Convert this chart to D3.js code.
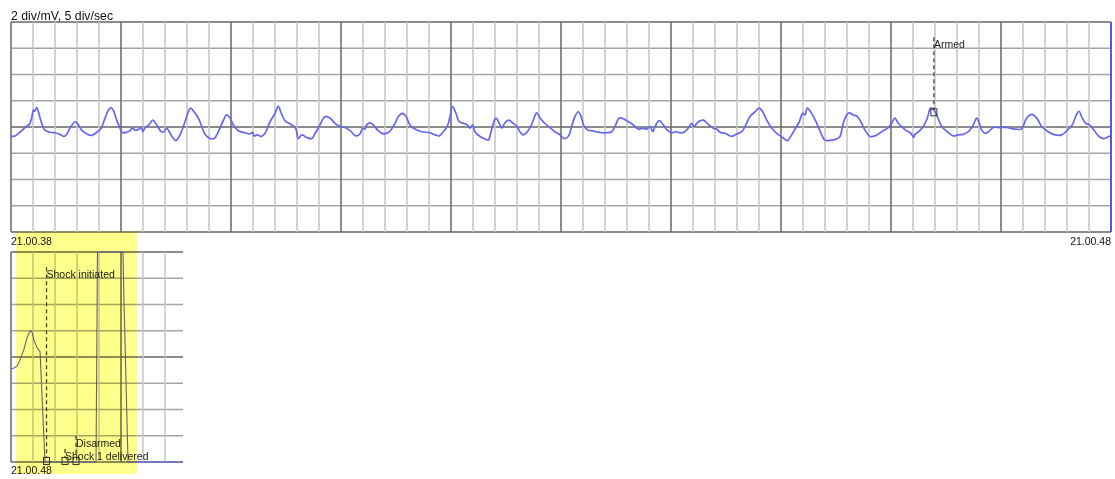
<!DOCTYPE html>
<html>
<head>
<meta charset="utf-8">
<script src="https://cdn.jsdelivr.net/npm/d3@7"></script>
<style>
    body { margin: 0; background: #fff; }
    text { font-family: "Liberation Sans", Arial, Helvetica, sans-serif; fill: #111; }
</style>
</head>
<body>
<div id="chart"></div>
<script>
"use strict"
// Labels
var scaleLabel = "2 div/mV, 5 div/sec"
var stripStartLabel = "21.00.38"
var stripEndLabel = "21.00.48"
var shockStartLabel = "21.00.48"

// Main ECG strip: seconds after 21.00.38, amplitude in mV
var stripSeconds = [0, 0.036, 0.082, 0.127, 0.166, 0.188, 0.203, 0.215, 0.234, 0.257, 0.279, 0.309, 0.355, 0.4, 0.445,
    0.482, 0.506, 0.536, 0.582, 0.603, 0.643, 0.688, 0.734, 0.779, 0.815, 0.855, 0.885, 0.909, 0.93, 0.961,
    0.991, 1.015, 1.052, 1.082, 1.106, 1.127, 1.157, 1.188, 1.197, 1.218, 1.257, 1.288, 1.325, 1.361, 1.385,
    1.415, 1.439, 1.47, 1.5, 1.536, 1.582, 1.612, 1.634, 1.664, 1.703, 1.734, 1.764, 1.809, 1.845, 1.885,
    1.925, 1.961, 1.991, 2.021, 2.066,
    2.127, 2.173, 2.197, 2.209, 2.239, 2.279, 2.309, 2.355, 2.4, 2.43, 2.452, 2.491, 2.536, 2.573, 2.591,
    2.612, 2.643, 2.688, 2.734, 2.773, 2.809, 2.855, 2.9, 2.945, 2.991, 3.036, 3.082, 3.136, 3.173, 3.197,
    3.218, 3.234, 3.264, 3.294, 3.339, 3.385, 3.439, 3.491, 3.521, 3.561, 3.591, 3.627, 3.673, 3.734, 3.809,
    3.855, 3.894, 3.93, 3.966, 3.991, 4.015, 4.045, 4.075, 4.112, 4.148, 4.173, 4.197, 4.218,
    4.264, 4.309, 4.339, 4.361, 4.385, 4.409, 4.439, 4.461, 4.491, 4.521, 4.566, 4.597, 4.627, 4.657, 4.694,
    4.725, 4.755, 4.779, 4.809, 4.839, 4.885, 4.945, 4.991, 5.027, 5.066, 5.097, 5.127, 5.157, 5.182, 5.209,
    5.248, 5.279, 5.318, 5.37, 5.415, 5.461, 5.491, 5.53, 5.573, 5.612, 5.657, 5.703, 5.748, 5.779, 5.809,
    5.834, 5.855, 5.894, 5.93, 5.966, 6.006, 6.045, 6.082, 6.127, 6.157, 6.188, 6.209, 6.248, 6.294, 6.339,
    6.379, 6.415,
    6.445, 6.491, 6.552, 6.591, 6.643, 6.673, 6.718, 6.764, 6.803, 6.834, 6.87, 6.915, 6.961, 7.015, 7.057,
    7.088, 7.127, 7.166, 7.197, 7.218, 7.239, 7.279, 7.325, 7.37, 7.4, 7.461, 7.506, 7.536, 7.566, 7.597,
    7.621, 7.657, 7.688, 7.718, 7.764, 7.809, 7.855, 7.915, 7.975, 8.006, 8.036, 8.066, 8.112, 8.157, 8.182,
    8.205, 8.218, 8.257, 8.294, 8.33, 8.361, 8.391, 8.421, 8.461, 8.512, 8.566, 8.612, 8.657, 8.703, 8.748,
    8.779, 8.803, 8.825, 8.855, 8.885, 8.93, 8.991, 9.052, 9.127, 9.188, 9.203, 9.234, 9.279, 9.325, 9.37,
    9.43, 9.491, 9.552, 9.603, 9.648, 9.685, 9.709, 9.739, 9.77, 9.806, 9.845, 9.891, 9.936, 9.982, 10]
var stripMv = [-0.18, -0.17, -0.10, -0.01, 0.05, 0.17, 0.32, 0.30, 0.37, 0.23, 0.07, -0.06, -0.10, -0.11, -0.14,
    -0.18, -0.14, -0.02, 0.10, 0.07, -0.06, -0.13, -0.16, -0.10, -0.04, 0.17, 0.32, 0.37, 0.32, 0.13,
    -0.02, -0.11, -0.10, -0.07, -0.02, -0.06, -0.05, -0.01, -0.09, -0.02, 0.05, 0.13, 0.04, -0.08, -0.10,
    -0.02, -0.09, -0.20, -0.26, -0.15, 0.10, 0.29, 0.36, 0.29, 0.17, 0.01, -0.14, -0.22, -0.22, -0.09,
    0.10, 0.23, 0.17, 0.04, -0.07,
    -0.11, -0.13, -0.10, -0.17, -0.15, -0.18, -0.12, 0.10, 0.26, 0.40, 0.29, 0.12, 0.06, 0.01, -0.04,
    -0.22, -0.15, -0.20, -0.22, -0.09, 0.04, 0.20, 0.17, 0.07, 0.01, -0.01, -0.07, -0.17, -0.13, -0.02,
    -0.04, 0.04, 0.08, 0.04, -0.07, -0.13, -0.09, 0.07, 0.20, 0.26, 0.20, 0.04, -0.04, -0.09, -0.11,
    -0.15, -0.17, -0.09, 0.01, 0.20, 0.39, 0.26, 0.10, 0.07, 0.04, -0.02, 0.04, -0.09,
    -0.18, -0.23, -0.25, -0.12, 0.07, 0.17, 0.07, -0.02, 0.08, 0.13, 0.07, 0.02, -0.09, -0.15, -0.09,
    0.01, 0.17, 0.27, 0.17, 0.10, 0.01, -0.09, -0.15, -0.22, -0.18, 0.01, 0.20, 0.29, 0.20, 0.02,
    -0.06, -0.07, -0.09, -0.11, -0.11, -0.09, 0.01, 0.17, 0.15, 0.10, 0.04, -0.04, -0.02, -0.04, 0.01,
    -0.09, 0.01, 0.12, 0.04, -0.06, -0.11, -0.09, -0.11, -0.09, -0.02, 0.07, 0.01, 0.10, 0.13, 0.05,
    -0.02, -0.04,
    -0.10, -0.12, -0.18, -0.14, -0.09, 0.01, 0.20, 0.29, 0.36, 0.29, 0.13, -0.02, -0.12, -0.20, -0.26,
    -0.18, -0.04, 0.10, 0.26, 0.23, 0.36, 0.26, 0.07, -0.15, -0.25, -0.25, -0.23, -0.18, 0.07, 0.23,
    0.27, 0.23, 0.21, 0.13, -0.06, -0.18, -0.17, -0.09, -0.01, 0.07, 0.17, 0.07, -0.02, -0.09, -0.12,
    -0.20, -0.14, -0.08, 0.01, 0.17, 0.36, 0.32, 0.20, 0.01, -0.09, -0.17, -0.15, -0.14, -0.09, 0.04,
    0.17, 0.07, -0.06, -0.12, -0.09, -0.01, -0.01, -0.01, -0.04, -0.04, 0.02, 0.17, 0.24, 0.17, 0.01,
    -0.09, -0.15, -0.15, -0.06, 0.04, 0.23, 0.30, 0.17, 0.07, 0.04, -0.06, -0.18, -0.22, -0.18, -0.17]

// Shock strip: seconds after 21.00.48, clipped at +/-2 mV
var shockSeconds = [0, 0.027, 0.055, 0.082, 0.118, 0.145, 0.164, 0.182, 0.191, 0.209, 0.236, 0.264, 0.309,
    0.773, 0.786, 1.018, 1.027, 1.064, 1.564]
var shockMv = [-0.23, -0.21, -0.17, -0.06, 0.15, 0.36, 0.46, 0.50, 0.48, 0.32, 0.18, 0.10, -2.0,
    -2.0, 2.0, 2.0, 1.09, -2.0, -2.0]

// Event markers
var stripEventSeconds = [8.39]
var stripEventMv = [0.28]
var stripEventLabels = ["Armed"]
var stripEventLabelMv = [1.5]

var shockEventSeconds = [0.323, 0.491, 0.591]
var shockEventMv = [-1.98, -1.98, -1.98]
var shockEventLabels = ["Shock initiated", "Shock 1 delivered", "Disarmed"]
var shockEventLabelMv = [1.5, -1.96, -1.71]

// Highlighted window, seconds after 21.00.48
var highlightSeconds = [0.045, 1.145]

var width = 1115
var height = 479
var pxPerSec = 110 // 5 div/sec, 22 px per div
var left = 11

var svg = d3.select("#chart").append("svg")
    .attr("width", width)
    .attr("height", height)

// Top strip scales
var xTop = d3.scaleLinear().domain([0, 10]).range([left, left + 10 * pxPerSec])
var yTop = d3.scaleLinear().domain([-2, 2]).range([232, 22])

// Bottom (shock) strip scales
var shockLen = shockSeconds[shockSeconds.length - 1]
var xBot = d3.scaleLinear().domain([0, shockLen]).range([left, left + shockLen * pxPerSec])
var yBot = d3.scaleLinear().domain([-2, 2]).range([462, 252])

function drawGrid(g, x, y, lastLine) {
    var xs = d3.range(0, Math.round(lastLine / 0.2) + 1).map(function (i) { return i * 0.2 })
    var ys = d3.range(-2, 2.01, 0.5)
    var x0 = x.range()[0], x1 = x.range()[1]

    // horizontal lines first, verticals on top
    g.selectAll(".hline").data(ys).enter().append("line")
        .attr("class", "hline")
        .attr("x1", x0).attr("x2", x1)
        .attr("y1", function (d) { return y(d) }).attr("y2", function (d) { return y(d) })
        .attr("stroke", function (d) { return d === 0 || Math.abs(d) === 2 ? "#666" : "#a6a6a6" })
        .attr("stroke-width", 1.5)

    g.selectAll(".vline").data(xs).enter().append("line")
        .attr("class", "vline")
        .attr("x1", function (d) { return x(d) }).attr("x2", function (d) { return x(d) })
        .attr("y1", y.range()[1]).attr("y2", y.range()[0])
        .attr("stroke", function (d, i) { return i % 5 === 0 ? "#666" : "#c4c4c4" })
        .attr("stroke-width", 1.5)
}

function drawEvents(g, x, y, secs, mvs, labels, labelMv) {
    var ev = secs.map(function (d, i) { return { t: d, v: mvs[i], label: labels[i], lv: labelMv[i] } })

    g.selectAll(".evline").data(ev).enter().append("line")
        .attr("x1", function (d) { return x(d.t) }).attr("x2", function (d) { return x(d.t) })
        .attr("y1", function (d) { return y(d.lv) - 11 })
        .attr("y2", function (d) { return y(d.v) - 3 })
        .attr("stroke", "#444")
        .attr("stroke-width", 1.3)
        .attr("stroke-dasharray", "4,3")

    g.selectAll(".evbox").data(ev).enter().append("rect")
        .attr("x", function (d) { return x(d.t) - 3 })
        .attr("y", function (d) { return y(d.v) - 3.5 })
        .attr("width", 6).attr("height", 7)
        .attr("fill", "none")
        .attr("stroke", "#333")
        .attr("stroke-width", 1)

    g.selectAll(".evlabel").data(ev).enter().append("text")
        .attr("x", function (d) { return x(d.t) })
        .attr("y", function (d) { return y(d.lv) })
        .style("font-size", "10.5px")
        .style("fill", "#222")
        .text(function (d) { return d.label })
}

// Top strip
var gTop = svg.append("g")
drawGrid(gTop, xTop, yTop, 10)

var topData = stripSeconds.map(function (d, i) { return [d, stripMv[i]] })
gTop.append("path")
    .datum(topData)
    .attr("fill", "none")
    .attr("stroke", "#6666ef")
    .attr("stroke-width", 1.7)
    .attr("stroke-linejoin", "round")
    .attr("d", d3.line()
        .x(function (d) { return xTop(d[0]) })
        .y(function (d) { return yTop(d[1]) })
        .curve(d3.curveCatmullRom.alpha(0.5)))

// end-of-strip cursor
gTop.append("line")
    .attr("x1", xTop(10)).attr("x2", xTop(10))
    .attr("y1", yTop(2)).attr("y2", yTop(-2))
    .attr("stroke", "#5656e8")
    .attr("stroke-width", 2)

drawEvents(gTop, xTop, yTop, stripEventSeconds, stripEventMv, stripEventLabels, stripEventLabelMv)

// Bottom strip
var gBot = svg.append("g")
drawGrid(gBot, xBot, yBot, 1.4)

var botData = shockSeconds.map(function (d, i) { return [d, shockMv[i]] })
gBot.append("path")
    .datum(botData)
    .attr("fill", "none")
    .attr("stroke", "#6161ee")
    .attr("stroke-width", 1.1)
    .attr("d", d3.line()
        .x(function (d) { return xBot(d[0]) })
        .y(function (d) { return yBot(d[1]) }))

drawEvents(gBot, xBot, yBot, shockEventSeconds, shockEventMv, shockEventLabels, shockEventLabelMv)

// Texts
svg.append("text")
    .attr("x", left).attr("y", 19.5)
    .style("font-size", "12.3px")
    .text(scaleLabel)

svg.append("text")
    .attr("x", left).attr("y", 245)
    .style("font-size", "10.5px")
    .text(stripStartLabel)

svg.append("text")
    .attr("x", xTop(10)).attr("y", 245)
    .attr("text-anchor", "end")
    .style("font-size", "10.5px")
    .text(stripEndLabel)

svg.append("text")
    .attr("x", left).attr("y", 474)
    .style("font-size", "10.5px")
    .text(shockStartLabel)

// Yellow highlight over everything, multiplied like a marker pen
svg.append("rect")
    .attr("x", xBot(highlightSeconds[0]))
    .attr("y", yTop(-2) - 0.5)
    .attr("width", xBot(highlightSeconds[1]) - xBot(highlightSeconds[0]))
    .attr("height", 474 - yTop(-2) + 0.5)
    .attr("fill", "#ffff8c")
    .style("mix-blend-mode", "multiply")
</script>
</body>
</html>
